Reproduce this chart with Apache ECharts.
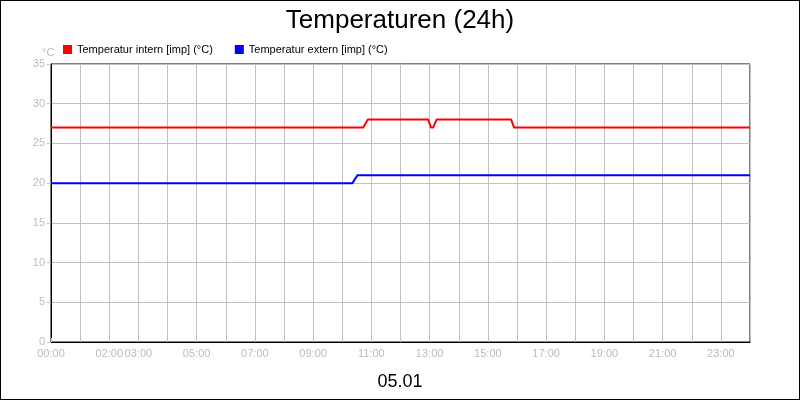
<!DOCTYPE html>
<html><head><meta charset="utf-8">
<script src="https://cdn.jsdelivr.net/npm/echarts@6/dist/echarts.min.js"></script>
<style>html,body{margin:0;padding:0}#c{width:798px;height:398px;border:1px solid #000}</style>
</head><body><div id="c"></div>
<script>
const seriesNames = ['Temperatur intern [imp] (°C)', 'Temperatur extern [imp] (°C)'];
const intern = [[0,27],[10.72,27],[10.88,28],[12.95,28],[13.05,27],[13.12,27],[13.24,28],[15.8,28],[15.9,27],[24,27]];
const extern = [[0,20],[10.35,20],[10.52,21],[24,21]];
const labeledHours = [0,2,3,5,7,9,11,13,15,17,19,21,23];
const chart = echarts.init(document.getElementById('c'));
chart.setOption({
  animation:false,
  backgroundColor:'#fff',
  title:[{text:'Temperaturen (24h)',left:'center',top:2,textStyle:{fontFamily:'Liberation Sans',fontSize:26,fontWeight:'normal',color:'#000'}},
         {text:'05.01',left:'center',top:367,textStyle:{fontFamily:'Liberation Sans',fontSize:18,fontWeight:'normal',color:'#000'}},
         {text:'°C',left:36,top:41,textStyle:{fontFamily:'Liberation Sans',fontSize:11,fontWeight:'normal',color:'#bbb'}}],
  legend:{left:57,top:38,itemWidth:9,itemHeight:9,itemGap:22,icon:'rect',textStyle:{fontFamily:'Liberation Sans',fontSize:11,color:'#000'},
    data:seriesNames},
  grid:{left:50,right:49,top:63,bottom:57,show:true,borderColor:'#000',borderWidth:1},
  xAxis:{type:'value',min:0,max:24,interval:1,
    axisLine:{lineStyle:{color:'#000'}},axisTick:{show:true,length:-4,lineStyle:{color:'#c0c0c0'}},
    splitLine:{show:true,lineStyle:{color:'#c0c0c0'}},
    axisLabel:{color:'#bbb',fontFamily:'Liberation Sans',fontSize:11,margin:6,showMaxLabel:false,
      formatter:v=>labeledHours.includes(v)?String(v).padStart(2,'0')+':00':''}},
  yAxis:{type:'value',min:0,max:35,interval:5,
    axisLine:{show:true,lineStyle:{color:'#000'}},axisTick:{show:true,length:4,lineStyle:{color:'#c0c0c0'}},
    splitLine:{show:true,lineStyle:{color:'#c0c0c0'}},
    axisLabel:{color:'#bbb',fontFamily:'Liberation Sans',fontSize:11,margin:6}},
  series:[
    {name:seriesNames[0],type:'line',data:intern,showSymbol:false,itemStyle:{color:'#ff0000'},lineStyle:{color:'#ff0000',width:2}},
    {name:seriesNames[1],type:'line',data:extern,showSymbol:false,itemStyle:{color:'#0000ff'},lineStyle:{color:'#0000ff',width:2}}
  ]
});
</script></body></html>
